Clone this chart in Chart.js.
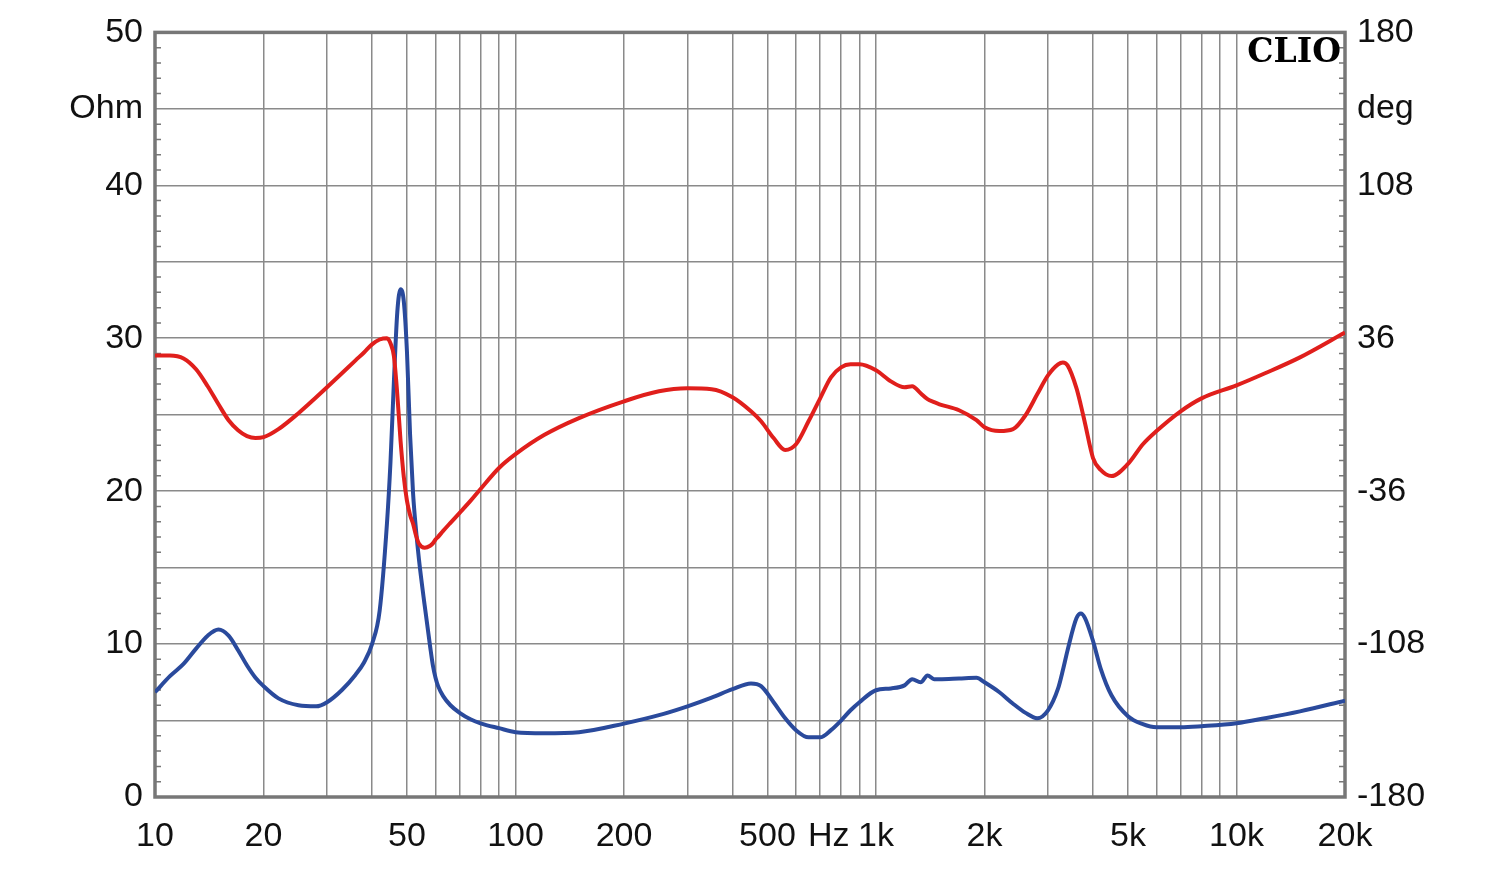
<!DOCTYPE html>
<html>
<head>
<meta charset="utf-8">
<script src="https://cdn.jsdelivr.net/npm/chart.js@4.4.1/dist/chart.umd.min.js"></script>
<style>
  html, body { margin: 0; padding: 0; background: #fff; }
  canvas { display: block; }
</style>
</head>
<body>
<canvas id="clio" width="1500" height="869"></canvas>
<script>
// frequency points (Hz)
const freqs = [10, 11, 12, 13, 14, 15, 16, 17, 18, 19, 20, 22, 25, 28, 30, 33, 36, 38, 40, 42,
  44, 45, 46, 47, 48, 49, 50, 51, 52, 53, 54, 56, 58, 59, 60, 61, 63, 66, 70, 75, 80, 90,
  100, 120, 150, 200, 250, 300, 350, 400, 450, 480, 520, 560, 600, 650, 700, 750, 800, 850, 900,
  1000, 1100, 1200, 1260, 1330, 1390, 1450, 1500, 1700, 1900, 2000, 2200, 2400, 2600, 2800, 3000,
  3200, 3300, 3400, 3600, 3700, 3800, 4000, 4200, 4500, 5000, 5500, 6000, 7000, 8000,
  10000, 12000, 15000, 20000];

// impedance magnitude (Ohm), blue
const impedance = [6.85, 7.9, 8.7, 9.7, 10.55, 10.95, 10.55, 9.6, 8.6, 7.8, 7.25, 6.45, 6.0, 5.93, 6.2, 7.0, 8.0, 8.8, 10.0, 12.2,
  17.9, 21.9, 27.2, 31.7, 33.2, 32.4, 29.1, 23.7, 19.8, 17.4, 15.5, 12.5, 9.8, 8.6, 7.8, 7.25, 6.6, 6.0, 5.5, 5.08, 4.82, 4.5,
  4.24, 4.17, 4.24, 4.8, 5.35, 5.93, 6.5, 7.05, 7.43, 7.25, 6.2, 5.15, 4.37, 3.9, 3.9, 4.37, 5.0, 5.67, 6.2,
  6.98, 7.1, 7.3, 7.7, 7.5, 7.95, 7.7, 7.7, 7.75, 7.8, 7.5, 6.85, 6.1, 5.5, 5.15, 5.67,
  7.1, 8.3, 9.6, 11.7, 12.0, 11.7, 10.2, 8.4, 6.65, 5.28, 4.76, 4.56, 4.56, 4.63,
  4.82, 5.15, 5.6, 6.3];

// impedance phase (deg), red
const phase = [27.9, 27.9, 26.5, 21.4, 13.4, 4.9, -2.6, -7.3, -10.1, -11.0, -10.6, -6.8, 0.7, 8.2, 12.9, 19.5, 25.6, 29.3, 33.1, 35.4,
  36.0, 33.6, 27.5, 9.6, -12.4, -29.3, -40.6, -47.2, -51.4, -57.0, -60.8, -62.7, -61.7, -60.6, -58.8, -57.5, -54.7, -50.9, -46.2, -40.6, -35.0, -25.1,
  -18.6, -9.6, -1.6, 6.3, 11.0, 12.4, 12.0, 8.2, 1.6, -3.1, -11.0, -16.6, -13.9, -3.1, 7.7, 17.6, 22.3, 23.7, 23.7,
  20.9, 15.7, 12.9, 13.4, 10.1, 7.3, 5.9, 4.9, 2.1, -2.6, -5.9, -7.7, -6.8, -0.2, 9.6, 18.5,
  23.7, 24.6, 23.2, 12.4, 4.5, -4.0, -20.4, -26.0, -28.9, -23.2, -13.9, -7.7, 1.6, 7.7,
  13.8, 19.5, 27.0, 38.7];

// axis ticks
const xGrid = [10, 20, 30, 40, 50, 60, 70, 80, 90, 100, 200, 300, 400, 500, 600, 700, 800, 900,
  1000, 2000, 3000, 4000, 5000, 6000, 7000, 8000, 9000, 10000, 20000];
const xLabels = { 10: '10', 20: '20', 50: '50', 100: '100', 200: '200', 500: '500', 740: 'Hz',
  1000: '1k', 2000: '2k', 5000: '5k', 10000: '10k', 20000: '20k' };
const ohmLabels = { 0: '0', 10: '10', 20: '20', 30: '30', 40: '40', 45: 'Ohm', 50: '50' };
const degLabels = { '-180': '-180', '-108': '-108', '-36': '-36', 36: '36', 108: '108', 144: 'deg', 180: '180' };

const GRID = '#8a8a8a';
const FONT = { family: '"Liberation Sans", Arial, sans-serif', size: 34 };

const pts = (vals) => freqs.map((f, i) => ({ x: f, y: vals[i] }));

// frame, minor ticks and the CLIO mark
const extras = {
  id: 'extras',
  beforeDatasetsDraw(chart) {
    const { ctx, chartArea: a, scales } = chart;
    ctx.save();
    ctx.strokeStyle = '#777';
    ctx.lineWidth = 1.5;
    for (let v = 0; v <= 50; v++) {
      if (v % 5 === 0) continue;
      const y = scales.y.getPixelForValue(v);
      ctx.beginPath();
      ctx.moveTo(a.left, y); ctx.lineTo(a.left + 6, y);
      ctx.moveTo(a.right, y); ctx.lineTo(a.right - 6, y);
      ctx.stroke();
    }
    ctx.lineWidth = 3.5;
    ctx.strokeRect(a.left, a.top, a.right - a.left, a.bottom - a.top);
    ctx.restore();
  },
  afterDraw(chart) {
    const { ctx, chartArea: a } = chart;
    ctx.save();
    ctx.font = 'bold 33px "DejaVu Serif", serif';
    ctx.fillStyle = '#000';
    ctx.textAlign = 'right';
    ctx.textBaseline = 'alphabetic';
    ctx.fillText('CLIO', a.right - 4, a.top + 30);
    ctx.restore();
  }
};

new Chart(document.getElementById('clio'), {
  type: 'line',
  data: {
    datasets: [
      { label: 'Phase', data: pts(phase), yAxisID: 'y2', borderColor: '#e01f1c', borderWidth: 4, order: 0 },
      { label: 'Impedance', data: pts(impedance), yAxisID: 'y', borderColor: '#2a4a9c', borderWidth: 4, order: 1 }
    ]
  },
  options: {
    responsive: false,
    animation: false,
    parsing: false,
    elements: { point: { radius: 0 }, line: { cubicInterpolationMode: 'monotone' } },
    layout: { padding: { top: 30, left: 0, right: 0, bottom: 0 } },
    plugins: { legend: { display: false }, tooltip: { enabled: false } },
    scales: {
      x: {
        type: 'logarithmic',
        min: 10,
        max: 20000,
        afterBuildTicks: (s) => { s.ticks = xGrid.concat([740]).sort((p, q) => p - q).map(v => ({ value: v })); },
        afterFit: (s) => { s.height = 72; },
        grid: { color: (c) => (c.tick && c.tick.value === 740 ? 'rgba(0,0,0,0)' : GRID), lineWidth: 1.5, drawTicks: false },
        border: { display: false },
        ticks: { autoSkip: false, maxRotation: 0, padding: 19, color: '#111', font: FONT,
          callback: (v) => xLabels[v] || '' }
      },
      y: {
        position: 'left',
        min: 0,
        max: 50,
        afterFit: (s) => { s.width = 155; },
        grid: { color: GRID, lineWidth: 1.5, drawTicks: false },
        border: { display: false },
        ticks: { stepSize: 5, padding: 12, color: '#111', font: FONT,
          callback: (v) => ohmLabels[v] || '' }
      },
      y2: {
        position: 'right',
        min: -180,
        max: 180,
        afterFit: (s) => { s.width = 155; },
        grid: { drawOnChartArea: false, drawTicks: false },
        border: { display: false },
        ticks: { stepSize: 36, padding: 12, color: '#111', font: FONT,
          callback: (v) => degLabels[v] || '' }
      }
    }
  },
  plugins: [extras]
});
</script>
</body>
</html>
